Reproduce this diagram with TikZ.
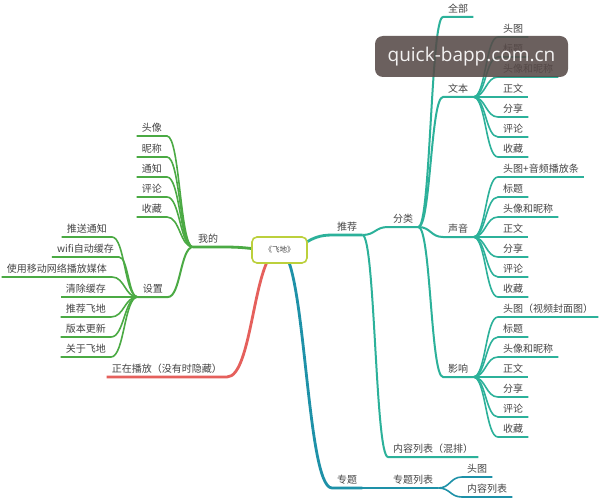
\documentclass[tikz,border=0pt]{standalone}
\usepackage{fontspec}
\newfontfamily\cjk{Noto Sans CJK SC}
\newfontfamily\wmfont{Open Sans}
\usetikzlibrary{calc}
\definecolor{ink}{HTML}{444444}
\definecolor{grn}{HTML}{4BAA44}
\definecolor{tl}{HTML}{2CB19A}
\definecolor{blu}{HTML}{1E91A8}
\definecolor{rd}{HTML}{E5605C}
\definecolor{hubc}{HTML}{BCD03C}
\definecolor{wmc}{HTML}{574A48}
\pgfdeclarelayer{bg}
\pgfsetlayers{bg,main}
\tikzset{
	curvy/.style={to path={let \p1=(\tikztostart),\p2=(\tikztotarget) in
		.. controls ({(\x1+\x2)/2},\y1) and ({(\x1+\x2)/2},\y2) .. (\tikztotarget)}},
	lbl/.style={font=\cjk\fontsize{10}{12}\selectfont,text=ink,inner xsep=5pt,inner ysep=2pt,text height=8pt,text depth=2pt},
	lt/.style={lbl,anchor=south west},
	rt/.style={lbl,anchor=south east},
	hub/.style={draw=hubc,line width=1.6pt,rounded corners=5pt,fill=white,minimum width=55pt,minimum height=26pt,font=\cjk\fontsize{7.5}{9}\selectfont,text=ink},
	trunk/.style={line width=2.8pt},
	twig/.style={line width=2pt},
	leaf/.style={line width=1.6pt},
	wm/.style={fill=wmc,fill opacity=.88,text opacity=1,text=white!93!wmc,rounded corners=8pt,minimum width=193pt,minimum height=41pt,font=\wmfont\fontsize{19}{22}\selectfont}
}

\begin{document}
\begin{tikzpicture}[x=1pt,y=-1pt]
	\useasboundingbox (0,0) rectangle (602,500);

	\node[hub] (0) at (279.5,250) {《飞地》};

	\node[lt] (1) at (193,247) {我的};
	\node[rt] (2) at (168,297) {设置};
	\node[rt] (3) at (227,377) {正在播放（没有时隐藏）};
	\node[lt] (4) at (332,235) {推荐};
	\node[lt] (5) at (332,488) {专题};

	\node[rt] (6) at (167,136) {头像};
	\node[rt] (7) at (167,157) {昵称};
	\node[rt] (8) at (167,177) {通知};
	\node[rt] (9) at (167,197) {评论};
	\node[rt] (10) at (167,217) {收藏};

	\node[rt] (11) at (112,237) {推送通知};
	\node[rt] (12) at (119,257) {wifi自动缓存};
	\node[rt] (13) at (112,277) {使用移动网络播放媒体};
	\node[rt] (14) at (111,297) {清除缓存};
	\node[rt] (15) at (111,317) {推荐飞地};
	\node[rt] (16) at (111,337) {版本更新};
	\node[rt] (17) at (111,357) {关于飞地};

	\node[lt] (18) at (388,227) {分类};
	\node[lt] (19) at (388,457) {内容列表（混排）};

	\node[lt] (20) at (443,17) {全部};
	\node[lt] (21) at (443,97) {文本};
	\node[lt] (22) at (443,237) {声音};
	\node[lt] (23) at (443,377) {影响};

	\node[lt] (24) at (498,37) {头图};
	\node[lt] (25) at (498,57) {标题};
	\node[lt] (26) at (498,77) {头像和昵称};
	\node[lt] (27) at (498,97) {正文};
	\node[lt] (28) at (498,117) {分享};
	\node[lt] (29) at (498,137) {评论};
	\node[lt] (30) at (498,157) {收藏};

	\node[lt] (31) at (498,177) {头图+音频播放条};
	\node[lt] (32) at (498,197) {标题};
	\node[lt] (33) at (498,217) {头像和昵称};
	\node[lt] (34) at (498,237) {正文};
	\node[lt] (35) at (498,257) {分享};
	\node[lt] (36) at (498,277) {评论};
	\node[lt] (37) at (498,297) {收藏};

	\node[lt] (38) at (498,317) {头图（视频封面图）};
	\node[lt] (39) at (498,337) {标题};
	\node[lt] (40) at (498,357) {头像和昵称};
	\node[lt] (41) at (498,377) {正文};
	\node[lt] (42) at (498,397) {分享};
	\node[lt] (43) at (498,417) {评论};
	\node[lt] (44) at (498,437) {收藏};

	\node[lt] (45) at (388,488) {专题列表};
	\node[lt] (46) at (462,477) {头图};
	\node[lt] (47) at (462,497) {内容列表};

	\node[wm] (48) at (471.5,56.5) {quick-bapp.com.cn};

\begin{pgfonlayer}{bg}
	\fill[white] (0,0) rectangle (602,500);
	\draw[trunk,grn] (0.center) to[curvy] (1.south east) -- (1.south west);
	\draw[trunk,rd] (0.center) to[curvy] (3.south east) -- (3.south west);
	\draw[trunk,tl] (0.center) to[curvy] (4.south west) -- (4.south east);
	\draw[trunk,blu] (0.center) to[curvy] (5.south west) -- (5.south east);
	\draw[twig,grn] (1.south west) to[curvy] (2.south east) -- (2.south west);
	\draw[leaf,grn] (1.south west) to[curvy] (6.south east) -- (6.south west); \draw[leaf,grn] (1.south west) to[curvy] (7.south east) -- (7.south west); \draw[leaf,grn] (1.south west) to[curvy] (8.south east) -- (8.south west); \draw[leaf,grn] (1.south west) to[curvy] (9.south east) -- (9.south west); \draw[leaf,grn] (1.south west) to[curvy] (10.south east) -- (10.south west);
	\draw[leaf,grn] (2.south west) to[curvy] (11.south east) -- (11.south west); \draw[leaf,grn] (2.south west) to[curvy] (12.south east) -- (12.south west); \draw[leaf,grn] (2.south west) to[curvy] (13.south east) -- (13.south west); \draw[leaf,grn] (2.south west) to[curvy] (14.south east) -- (14.south west); \draw[leaf,grn] (2.south west) to[curvy] (15.south east) -- (15.south west); \draw[leaf,grn] (2.south west) to[curvy] (16.south east) -- (16.south west); \draw[leaf,grn] (2.south west) to[curvy] (17.south east) -- (17.south west);
	\draw[twig,tl] (4.south east) to[curvy] (18.south west) -- (18.south east); \draw[twig,tl] (4.south east) to[curvy] (19.south west) -- (19.south east);
	\draw[twig,tl] (18.south east) to[curvy] (20.south west) -- (20.south east); \draw[twig,tl] (18.south east) to[curvy] (21.south west) -- (21.south east); \draw[twig,tl] (18.south east) to[curvy] (22.south west) -- (22.south east); \draw[twig,tl] (18.south east) to[curvy] (23.south west) -- (23.south east);
	\draw[leaf,tl] (21.south east) to[curvy] (24.south west) -- (24.south east); \draw[leaf,tl] (21.south east) to[curvy] (25.south west) -- (25.south east); \draw[leaf,tl] (21.south east) to[curvy] (26.south west) -- (26.south east); \draw[leaf,tl] (21.south east) to[curvy] (27.south west) -- (27.south east); \draw[leaf,tl] (21.south east) to[curvy] (28.south west) -- (28.south east); \draw[leaf,tl] (21.south east) to[curvy] (29.south west) -- (29.south east); \draw[leaf,tl] (21.south east) to[curvy] (30.south west) -- (30.south east);
	\draw[leaf,tl] (22.south east) to[curvy] (31.south west) -- (31.south east); \draw[leaf,tl] (22.south east) to[curvy] (32.south west) -- (32.south east); \draw[leaf,tl] (22.south east) to[curvy] (33.south west) -- (33.south east); \draw[leaf,tl] (22.south east) to[curvy] (34.south west) -- (34.south east); \draw[leaf,tl] (22.south east) to[curvy] (35.south west) -- (35.south east); \draw[leaf,tl] (22.south east) to[curvy] (36.south west) -- (36.south east); \draw[leaf,tl] (22.south east) to[curvy] (37.south west) -- (37.south east);
	\draw[leaf,tl] (23.south east) to[curvy] (38.south west) -- (38.south east); \draw[leaf,tl] (23.south east) to[curvy] (39.south west) -- (39.south east); \draw[leaf,tl] (23.south east) to[curvy] (40.south west) -- (40.south east); \draw[leaf,tl] (23.south east) to[curvy] (41.south west) -- (41.south east); \draw[leaf,tl] (23.south east) to[curvy] (42.south west) -- (42.south east); \draw[leaf,tl] (23.south east) to[curvy] (43.south west) -- (43.south east); \draw[leaf,tl] (23.south east) to[curvy] (44.south west) -- (44.south east);
	\draw[twig,blu] (5.south east) to[curvy] (45.south west) -- (45.south east);
	\draw[leaf,blu] (45.south east) to[curvy] (46.south west) -- (46.south east); \draw[leaf,blu] (45.south east) to[curvy] (47.south west) -- (47.south east);
\end{pgfonlayer}

\end{tikzpicture}
\end{document}
